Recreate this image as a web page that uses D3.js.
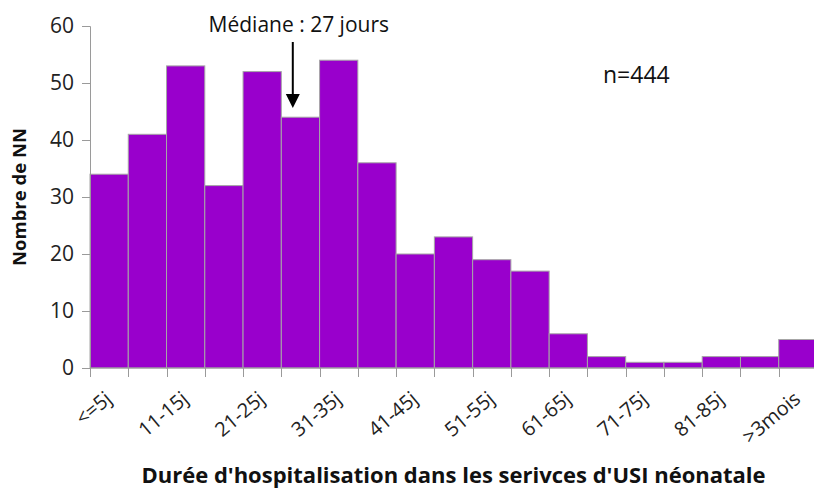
<!DOCTYPE html>
<html>
<head>
<meta charset="utf-8">
<script src="https://cdn.jsdelivr.net/npm/d3@7"></script>
<style>
  body { margin: 0; background: #fff; }
  svg { display: block; font-family: "Open Sans", sans-serif; }
</style>
</head>
<body>
<svg id="chart" width="814" height="495"></svg>
<script>
var categories = ["<=5j", "6-10j", "11-15j", "16-20j", "21-25j", "26-30j", "31-35j", "36-40j",
  "41-45j", "46-50j", "51-55j", "56-60j", "61-65j", "66-70j", "71-75j", "76-80j",
  "81-85j", "86-90j", ">3mois"];
var counts = [34, 41, 53, 32, 52, 44, 54, 36, 20, 23, 19, 17, 6, 2, 1, 1, 2, 2, 5];
var yTicks = [0, 10, 20, 30, 40, 50, 60];
var medianDays = 27;

function drawChart() {
  var svg = d3.select("#chart");
  var plotLeft = 90, plotRight = 817, plotTop = 26, plotBottom = 368;

  var x = d3.scaleBand().domain(categories).range([plotLeft, plotRight]).padding(0);
  var y = d3.scaleLinear().domain([0, 60]).range([plotBottom, plotTop]);

  // bars
  svg.append("g")
    .selectAll("rect")
    .data(counts)
    .enter()
    .append("rect")
    .attr("x", function (d, i) { return x(categories[i]); })
    .attr("y", function (d) { return y(d); })
    .attr("width", x.bandwidth())
    .attr("height", function (d) { return plotBottom - y(d); })
    .attr("fill", "#9900cc")
    .attr("stroke", "#a6a6a6")
    .attr("stroke-width", 1);

  // y axis
  var yAxis = svg.append("g")
    .attr("transform", "translate(" + plotLeft + ",0)")
    .call(d3.axisLeft(y).tickValues(yTicks).tickSize(8).tickPadding(8));
  yAxis.select(".domain").attr("stroke", "#9a9a9a");
  yAxis.selectAll(".tick line").attr("stroke", "#9a9a9a");
  yAxis.selectAll(".tick text")
    .attr("font-size", 21)
    .attr("fill", "#222")
    .attr("font-family", "Open Sans, sans-serif");

  // x axis line and boundary ticks
  svg.append("line")
    .attr("x1", plotLeft).attr("x2", plotRight)
    .attr("y1", plotBottom).attr("y2", plotBottom)
    .attr("stroke", "#9a9a9a");
  svg.append("g")
    .selectAll("line")
    .data(categories)
    .enter()
    .append("line")
    .attr("x1", function (d) { return Math.round(x(d)) + 0.5; })
    .attr("x2", function (d) { return Math.round(x(d)) + 0.5; })
    .attr("y1", plotBottom)
    .attr("y2", plotBottom + 9)
    .attr("stroke", "#9a9a9a");

  // x tick labels, every other category
  svg.append("g")
    .selectAll("text")
    .data(categories.filter(function (d, i) { return i % 2 === 0; }))
    .enter()
    .append("text")
    .attr("transform", function (d) {
      return "translate(" + (x(d) + x.bandwidth() / 2 + 4) + "," + (plotBottom + 33) + ") rotate(-40)";
    })
    .attr("text-anchor", "end")
    .attr("font-size", 20)
    .attr("fill", "#222")
    .text(function (d) { return d; });

  // axis titles
  svg.append("text")
    .attr("transform", "translate(26," + ((plotTop + plotBottom) / 2) + ") rotate(-90)")
    .attr("text-anchor", "middle")
    .attr("font-size", 18.5)
    .attr("font-weight", "bold")
    .attr("fill", "#111")
    .text("Nombre de NN");

  svg.append("text")
    .attr("x", (plotLeft + plotRight) / 2)
    .attr("y", 483)
    .attr("text-anchor", "middle")
    .attr("font-size", 22)
    .attr("font-weight", "bold")
    .attr("fill", "#111")
    .text("Durée d'hospitalisation dans les serivces d'USI néonatale");

  // n annotation
  svg.append("text")
    .attr("x", 603)
    .attr("y", 83)
    .attr("font-size", 23)
    .attr("fill", "#111")
    .text("n=444");

  // median arrow
  var medX = x("26-30j") + x.bandwidth() * (medianDays - 25.5) / 5;
  svg.append("line")
    .attr("x1", medX).attr("x2", medX)
    .attr("y1", 42).attr("y2", 96)
    .attr("stroke", "#000")
    .attr("stroke-width", 2);
  svg.append("path")
    .attr("d", "M" + (medX - 7) + ",94 L" + (medX + 7) + ",94 L" + medX + ",108 Z")
    .attr("fill", "#000");
  svg.append("text")
    .attr("x", medX + 6)
    .attr("y", 32)
    .attr("text-anchor", "middle")
    .attr("font-size", 21)
    .attr("fill", "#111")
    .text("Médiane : 27 jours");
}

drawChart();
</script>
</body>
</html>
